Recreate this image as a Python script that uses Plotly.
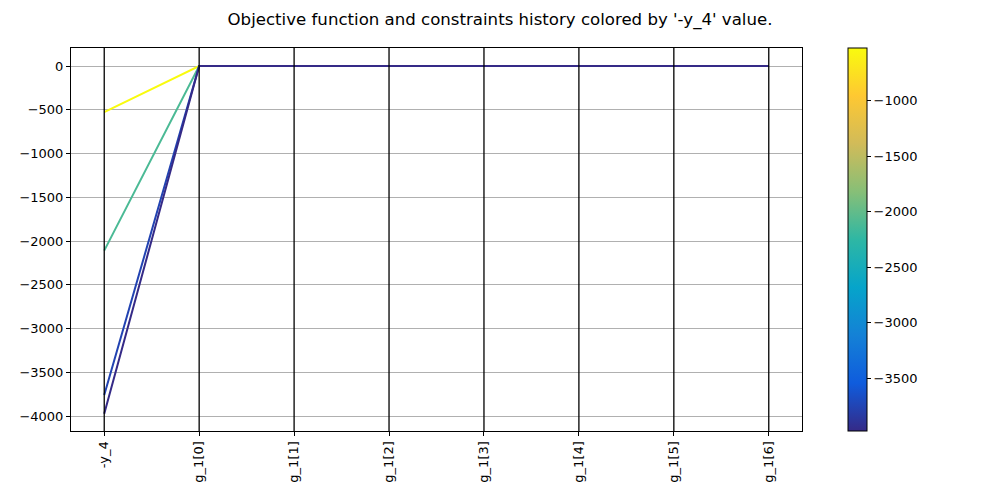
import plotly.graph_objects as go
from plotly.colors import sample_colorscale

# ---- data ----
axis_labels = ["-y_4", "g_1[0]", "g_1[1]", "g_1[2]", "g_1[3]", "g_1[4]", "g_1[5]", "g_1[6]"]
objective = [-526.0, -2110.0, -3760.0, -3975.0]
constraints = [
    [0.0, 0.0, 0.0, 0.0, 0.0, 0.0, 0.0],
    [0.0, 0.0, 0.0, 0.0, 0.0, 0.0, 0.0],
    [0.0, 0.0, 0.0, 0.0, 0.0, 0.0, 0.0],
    [0.0, 0.0, 0.0, 0.0, 0.0, 0.0, 0.0],
]
y_ticks = [0, -500, -1000, -1500, -2000, -2500, -3000, -3500, -4000]
cbar_ticks = [-1000, -1500, -2000, -2500, -3000, -3500]

parula = [
    [0.0, "#352a87"], [0.125, "#0f5cdd"], [0.25, "#1481d6"], [0.375, "#06a4ca"],
    [0.5, "#2eb7a4"], [0.625, "#87bf77"], [0.75, "#d1bb59"], [0.875, "#fec832"],
    [1.0, "#f9fb0e"],
]

vmin, vmax = min(objective), max(objective)
xs = list(range(len(axis_labels)))

fig = go.Figure()
for obj, cons in zip(objective, constraints):
    t = (obj - vmin) / (vmax - vmin)
    col = sample_colorscale(parula, [t])[0]
    fig.add_trace(go.Scatter(
        x=xs, y=[obj] + cons, mode="lines",
        line=dict(color=col, width=2), showlegend=False, hoverinfo="skip",
    ))

# colorbar via dummy trace
fig.add_trace(go.Scatter(
    x=[None], y=[None], mode="markers", showlegend=False, hoverinfo="skip",
    marker=dict(
        color=[vmin, vmax], cmin=vmin, cmax=vmax, colorscale=parula, showscale=True,
        colorbar=dict(
            x=1.063, xanchor="left", y=0.5, yanchor="middle", len=1.0, lenmode="fraction",
            xpad=0, ypad=0,
            thickness=19, thicknessmode="pixels", outlinewidth=1, outlinecolor="black",
            tickvals=cbar_ticks, ticktext=["\u2212" + str(abs(v)) for v in cbar_ticks],
            ticks="outside", ticklen=4, tickcolor="black",
            tickfont=dict(family="DejaVu Sans", size=13, color="black"),
        ),
    ),
))

# vertical axis lines
for x in xs:
    fig.add_shape(type="line", x0=x, x1=x, y0=0, y1=1, xref="x", yref="paper",
                  line=dict(color="black", width=1.3), layer="above")

fig.update_layout(
    width=1000, height=500,
    margin=dict(l=63, r=206, t=40, b=77),
    paper_bgcolor="white", plot_bgcolor="white",
    font=dict(family="DejaVu Sans", size=13, color="black"),
    title=dict(text="Objective function and constraints history colored by '-y_4' value.",
               x=(500 - 71) / 731, xref="paper", xanchor="center", y=0.977, yanchor="middle",
               font=dict(size=16.6, family="DejaVu Sans", color="black")),
)
fig.update_xaxes(
    range=[-0.35, 7.35], tickvals=xs, ticktext=axis_labels, tickangle=-90,
    showgrid=False, zeroline=False, showline=True, mirror=True, linecolor="black",
    linewidth=1, ticks="outside", ticklen=4, tickcolor="black",
)
fig.update_yaxes(
    range=[-4171, 206], tickvals=y_ticks, ticktext=["0"] + ["\u2212" + str(abs(v)) for v in y_ticks[1:]],
    showgrid=True, gridcolor="#b0b0b0", gridwidth=1, zeroline=False,
    showline=True, mirror=True, linecolor="black", linewidth=1,
    ticks="outside", ticklen=4, tickcolor="black",
)

fig.write_html("out.html")
